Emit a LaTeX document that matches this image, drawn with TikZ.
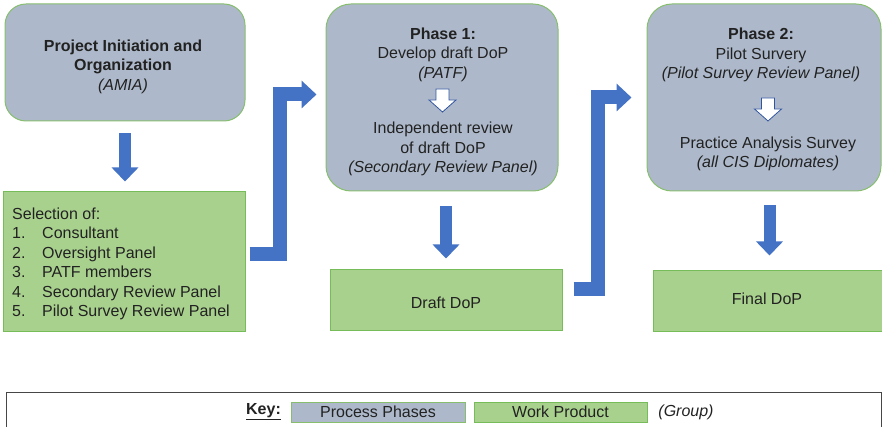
\documentclass[tikz,border=0pt]{standalone}
\usepackage{fontspec}
\setmainfont{Liberation Sans}
\usetikzlibrary{arrows.meta,calc}

\definecolor{phasefill}{RGB}{173,185,202}
\definecolor{phaseline}{RGB}{135,190,110}
\definecolor{prodfill}{RGB}{169,209,142}
\definecolor{prodline}{RGB}{118,188,88}
\definecolor{flowblue}{RGB}{68,114,196}
\definecolor{hollowline}{RGB}{50,85,160}
\definecolor{inktext}{RGB}{34,34,34}
\definecolor{keyframe}{RGB}{70,70,70}

\tikzset{
  hollowdown/.pic={
    \draw[draw=hollowline, fill=white, line width=0.8pt, line join=miter]
      (-6.5,0) -- (6.5,0) -- (6.5,11) -- (13.5,11) -- (0,23)
      -- (-13.5,11) -- (-6.5,11) -- cycle;
  }
}

\begin{document}
\begin{tikzpicture}[x=1pt,y=-1pt,
  basefont/.style={font=\fontsize{16}{19.5}\selectfont},
  every node/.style={text=inktext, basefont},
  phasebox/.style={draw=phaseline, fill=phasefill, line width=1pt,
                   rounded corners=25pt, inner sep=0pt},
  prodbox/.style={draw=prodline, fill=prodfill, line width=1pt, inner sep=0pt},
  keybox/.style={line width=1pt, inner sep=0pt, minimum height=20pt},
  flow/.style={draw=flowblue, line width=12pt,
               -{Triangle[width=26pt,length=14pt]}},
  bentflow/.style={draw=flowblue, line width=14pt, line join=miter,
                   -{Triangle[width=27pt,length=15pt]}},
]
\useasboundingbox (0,0) rectangle (882,427);

% process phases
\node[phasebox, rounded corners=21pt, minimum width=240pt, minimum height=117pt]
  (proj) at (125,62.5) {};
\node[phasebox, minimum width=232pt, minimum height=187pt] (ph1) at (442,97.5) {};
\node[phasebox, minimum width=234pt, minimum height=187pt] (ph2) at (764,97.5) {};

% work products
\node[prodbox, minimum width=242pt, minimum height=139pt] (sel) at (124,261.5) {};
\node[prodbox, minimum width=232pt, minimum height=60pt] (draft) at (446,300) {};
\node[prodbox, minimum width=233pt, minimum height=60pt] (final) at (769.5,301) {};
\node (drafttext) at (446,302.5) {Draft DoP};
\node (finaltext) at (767,299) {Final DoP};

% texts inside the phases
\node[align=center, font=\fontsize{16}{19.5}\selectfont\bfseries] (projtext) at (123,66.5)
  {Project Initiation and\\Organization\\{\mdseries\itshape (AMIA)}};
\node[align=center] (p1a) at (443,54.5)
  {\textbf{Phase 1:}\\Develop draft DoP\\\textit{(PATF)}};
\node[align=center] (p1b) at (443,149)
  {Independent review\\of draft DoP\\\textit{(Secondary Review Panel)}};
\node[align=center] (p2a) at (761,55)
  {\textbf{Phase 2:}\\Pilot Survery\\\textit{(Pilot Survey Review Panel)}};
\node[align=center] (p2b) at (768,154)
  {Practice Analysis Survey\\\textit{(all CIS Diplomates)}};

\pic at (442.5,89) {hollowdown};
\pic at (768,98) {hollowdown};

% selection list
\node[anchor=west, align=left, inner sep=0pt] (seltext) at (12,264)
  {Selection of:\\
   \makebox[30pt][l]{1.}Consultant\\
   \makebox[30pt][l]{2.}Oversight Panel\\
   \makebox[30pt][l]{3.}PATF members\\
   \makebox[30pt][l]{4.}Secondary Review Panel\\
   \makebox[30pt][l]{5.}Pilot Survey Review Panel};

% flow arrows
\draw[flow] ($(proj.south)+(0,12)$) -- ($(proj.south |- sel.north)+(0,-10)$);
\draw[flow] ($(draft.north |- ph1.south)+(0,15)$) -- ($(draft.north)+(0,-11)$);
\draw[flow] ($(final.north |- ph2.south)+(0,14)$) -- ($(final.north)+(0,-15)$);
\draw[bentflow] ($(sel.east)+(4,-7.5)$) -| ($(ph1.west)+(-46,-3)$) -- ($(ph1.west)+(-9,-3)$);
\draw[bentflow] ($(draft.east)+(11,-11)$) -| ($(ph2.west)+(-49,0)$) -- ($(ph2.west)+(-15,0)$);

% key
\node[draw=keyframe, line width=1pt, inner sep=0pt, minimum width=874.5pt,
      minimum height=50pt] (keyframe) at (443.75,417) {};
\node[font=\fontsize{16}{19.5}\selectfont\bfseries] (keylabel) at (263.5,411.5) {\underline{Key:}};
\node[keybox, draw=phaseline, fill=phasefill, minimum width=174pt] (keyphase) at (378,412) {Process Phases};
\node[keybox, draw=prodline, fill=prodfill, minimum width=173pt] (keyprod) at (560.5,412) {Work Product};
\node[font=\fontsize{16}{19.5}\selectfont\itshape] (keygroup) at (686,412.5) {(Group)};
\end{tikzpicture}
\end{document}
